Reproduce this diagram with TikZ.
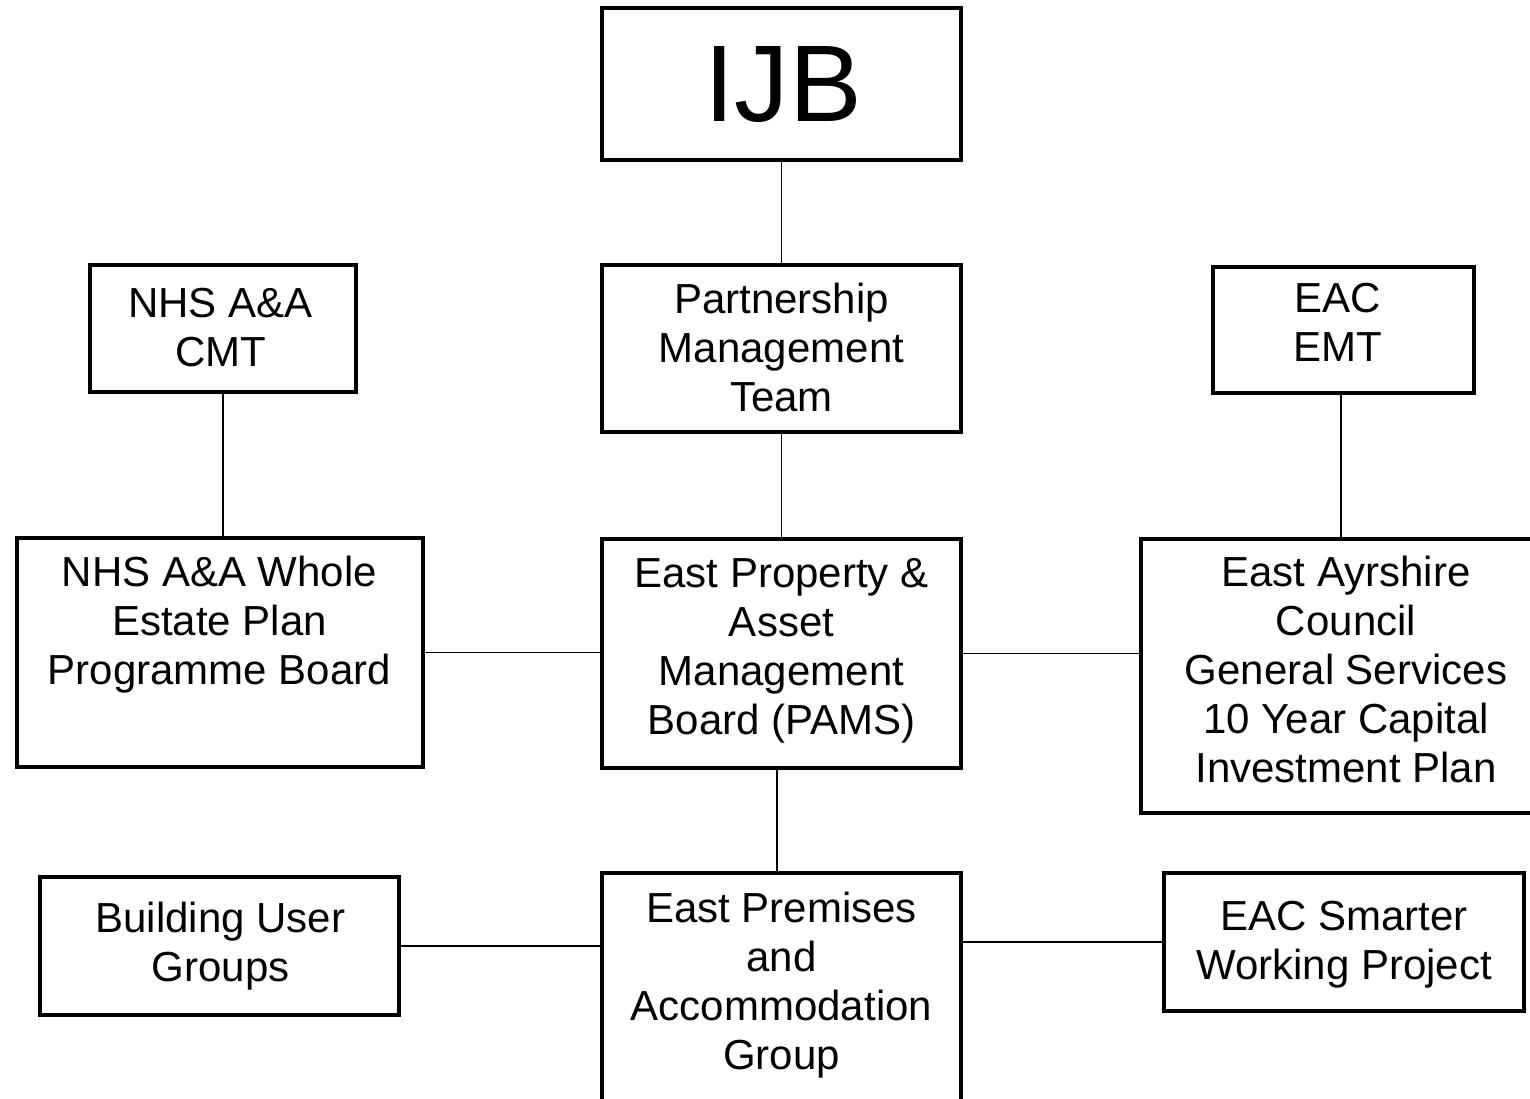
\documentclass[tikz,border=0pt]{standalone}
\usepackage{fontspec}
\setmainfont{Liberation Sans}
\begin{document}
\begin{tikzpicture}[x=0.5pt,y=-0.5pt,
  box/.style={draw=black, line width=2pt, fill=white, rectangle, inner sep=0pt},
  lbl/.style={font=\fontsize{21pt}{24.5pt}\selectfont, align=center, inner sep=0pt, anchor=north,
    execute at begin node=\strut, execute at end node=\strut},
  link/.style={draw=black, line width=0.9pt}]
\useasboundingbox (0,0) rectangle (1530,1098);
\fill[white] (0,0) rectangle (1530,1098);
% boxes
\node[box, minimum width=179.5pt, minimum height=76pt]   (ijb)  at (781.5,84)   {};
\node[box, minimum width=179.5pt, minimum height=83.5pt] (pmt)  at (781.5,348.5) {};
\node[box, minimum width=133pt,   minimum height=63.5pt] (cmt)  at (223,328.5)  {};
\node[box, minimum width=130.5pt, minimum height=63pt]   (emt)  at (1343.5,330) {};
\node[box, minimum width=203pt,   minimum height=114.5pt](wep)  at (220,652.5)  {};
\node[box, minimum width=179.5pt, minimum height=114.5pt](pams) at (781.5,653.5) {};
\node[box, minimum width=204.5pt, minimum height=137pt]  (eac)  at (1345.5,676)  {};
\node[box, minimum width=179.5pt, minimum height=69pt]   (bug)  at (219.5,946)  {};
\node[box, minimum width=179.5pt, minimum height=123.5pt](epg)  at (781.5,996.5) {};
\node[box, minimum width=180pt,   minimum height=69pt]   (sw)   at (1344,942)   {};
% texts
\node[font=\fontsize{54.5pt}{60pt}\selectfont, inner sep=0pt, anchor=base] (tijb) at (783,121) {IJB};
\node[lbl] (tpmt)  at (781.5,282.7) {Partnership\\Management\\Team};
\node[lbl] (tcmt)  at (220.5,287.7) {NHS A\&A\\CMT};
\node[lbl] (temt)  at (1338,282.7)  {EAC\\EMT};
\node[lbl] (twep)  at (219.5,555.7) {NHS A\&A Whole\\Estate Plan\\Programme Board};
\node[lbl] (tpams) at (781.5,557.7) {East Property \&\\Asset\\Management\\Board (PAMS)};
\node[lbl] (teac)  at (1346,555.7)  {East Ayrshire\\Council\\General Services\\10 Year Capital\\Investment Plan};
\node[lbl] (tbug)  at (220.5,901.7) {Building User\\Groups};
\node[lbl] (tepg)  at (781.5,891.7) {East Premises\\and\\Accommodation\\Group};
\node[lbl] (tsw)   at (1344,900.7)  {EAC Smarter\\Working Project};
% connectors
\coordinate (cx) at (777,0);
\coordinate (ex) at (1341,0);
\draw[link] (ijb) -- (pmt);
\draw[link] (pmt) -- (pams);
\draw[link] (cmt.south) -- (cmt.south |- wep.north);
\draw[link] (emt.south -| ex) -- (eac.north -| ex);
\draw[link] (wep.east) -- (wep.east -| pams.west);
\draw[link] (pams.east) -- (pams.east -| eac.west);
\draw[link] (pams.south -| cx) -- (epg.north -| cx);
\draw[link] (bug.east) -- (bug.east -| epg.west);
\draw[link] (sw.west -| epg.east) -- (sw.west);
\end{tikzpicture}
\end{document}
